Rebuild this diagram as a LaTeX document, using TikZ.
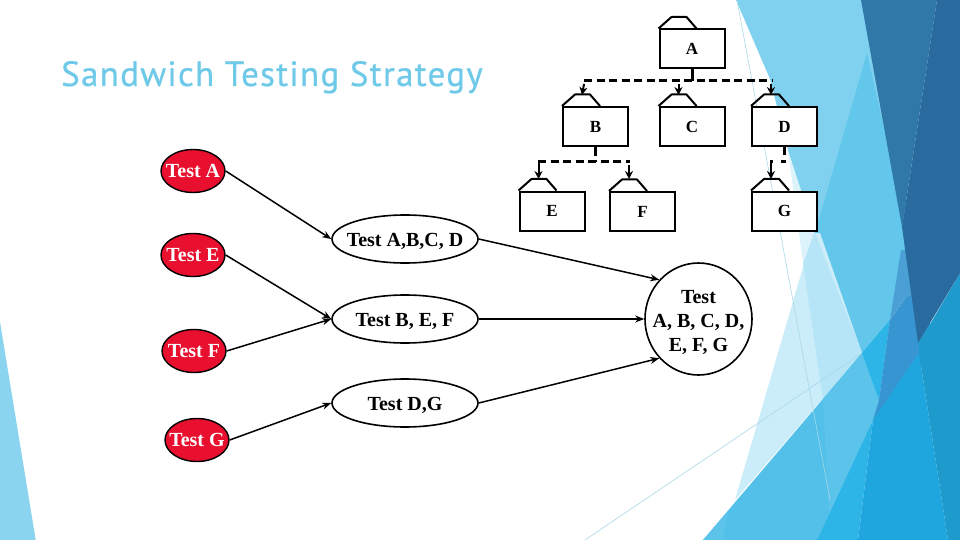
\documentclass[tikz,border=0pt]{standalone}
\usepackage{fontspec}
\setmainfont{Liberation Serif}
\newfontfamily\titlefont[LetterSpace=3.7,FakeBold=0.6]{PT Sans}
\usetikzlibrary{shapes.geometric,arrows.meta}
\definecolor{bL}{HTML}{7FD1EF}
\definecolor{bM}{HTML}{63C6EB}
\definecolor{bP}{HTML}{CBEDF9}
\definecolor{bPb}{HTML}{B5E5F7}
\definecolor{bW}{HTML}{DDF3FB}
\definecolor{bD}{HTML}{2F78A8}
\definecolor{bDD}{HTML}{296B9F}
\definecolor{bO}{HTML}{3795D1}
\definecolor{bOl}{HTML}{4A9FD4}
\definecolor{bA}{HTML}{20A6DE}
\definecolor{bB}{HTML}{1E9ACD}
\definecolor{bC}{HTML}{2CB5E6}
\definecolor{bE}{HTML}{52C0E9}
\definecolor{bF}{HTML}{5CC4EA}
\definecolor{bT}{HTML}{8AD4F0}
\definecolor{bLine}{HTML}{A8D8E8}
\definecolor{titleblue}{HTML}{6FC9E8}
\definecolor{testred}{HTML}{E8102E}
\newcommand{\zw}[2][0pt]{\makebox[0pt][c]{\raisebox{#1}[\height][\depth]{#2}}}
\tikzset{
  box/.style={draw=black,line width=2pt,fill=white,rectangle,minimum width=65pt,minimum height=39pt,inner sep=0pt,font=\fontsize{17}{20}\selectfont\bfseries},
  tab/.style={draw=black,line width=2pt,line join=round},
  redtest/.style={ellipse,draw=black,line width=1.4pt,fill=testred,text=white,minimum width=64pt,minimum height=43pt,inner sep=0pt,font=\fontsize{20}{24}\selectfont\bfseries},
  whitetest/.style={ellipse,draw=black,line width=1.6pt,fill=white,minimum width=146pt,minimum height=48pt,inner sep=0pt,font=\fontsize{20}{24}\selectfont\bfseries},
  alltest/.style={ellipse,draw=black,line width=1.6pt,fill=white,minimum width=107pt,minimum height=112pt,inner sep=0pt,font=\fontsize{20}{24}\selectfont\bfseries},
  flow/.style={draw=black,line width=1.5pt,-{Stealth[length=9pt,width=7pt]}},
  stem/.style={draw=black,line width=3pt},
  bus/.style={draw=black,line width=3pt,dash pattern=on 8pt off 4.5pt},
  drop/.style={draw=black,line width=2pt,-{Stealth[length=8pt,width=8pt]}},
}
\begin{document}
\begin{tikzpicture}[x=1pt,y=-1pt]
\useasboundingbox (0,0) rectangle (960,540);
\fill[white] (0,0) rectangle (960,540);
% background shards
\fill[bT] (0,322) -- (35.7,540) -- (0,540) -- cycle;
\fill[bW] (788,150) -- (815,233) -- (803,263) -- cycle;
\fill[bL] (736,0) -- (870,0) -- (912,233) -- (862,353) -- (815,233) -- (788,150) -- (770,79) -- cycle;
\fill[bM] (867,53) -- (906,227) -- (908,250) -- (890,320) -- (879,400) -- (862,353) -- (815,233) -- cycle;
\fill[bP] (813,233) -- (735,500) -- (862,353) -- (820,233) -- cycle;
\fill[bPb] (803,263) -- (815,233) -- (862,353) -- (823,400) -- cycle;
\fill[bE] (862,353) -- (703,540) -- (817,540) -- (873,420) -- (879,400) -- cycle;
\fill[bF] (728,512) -- (703,540) -- (723,540) -- cycle;
\fill[bF] (862,353) -- (823,400) -- (830,540) -- (817,540) -- (873,420) -- (879,400) -- cycle;
\fill[bC] (873,420) -- (817,540) -- (858,540) -- cycle;
\fill[bC] (890,320) -- (862,353) -- (879,400) -- cycle;
\fill[bO] (907,296) -- (930,296) -- (930,353) -- (873,420) -- (879,400) -- (890,320) -- cycle;
\fill[bOl] (901,250) -- (925,250) -- (925,296) -- (907,296) -- (890,320) -- cycle;
\fill[bA] (919,353) -- (873,420) -- (858,540) -- (948,540) -- cycle;
\fill[bB] (960,273) -- (919,343) -- (919,353) -- (948,540) -- (960,540) -- cycle;
\fill[bD] (861,0) -- (937,0) -- (902,227) -- cycle;
\fill[bDD] (937,0) -- (960,0) -- (960,273) -- (918,343) -- (902,227) -- cycle;
\draw[bLine,line width=0.6pt] (737,0) -- (830,500);
\draw[bLine,line width=0.6pt] (585,540) -- (862,353);
% title
\node[anchor=base west,inner sep=0pt,text=titleblue,font=\titlefont\fontsize{35}{40}\selectfont] (title) at (61,86) {Sandwich Testing Strategy};
% packages
\node[box] (A) at (692,49) {A};
\node[box] (B) at (595.5,126.5) {B};
\node[box] (C) at (692,126.5) {C};
\node[box] (D) at (784.5,126.5) {D};
\node[box] (E) at (552,211) {E};
\node[box] (F) at (642.5,211.5) {F};
\node[box] (G) at (784.5,211) {G};
\foreach \n in {A,B,C,D,E,F,G}{
  \draw[tab] (\n.north west) -- ++(13,-11.5) -- ++(15,0) -- ++(10,11.5);
}
% package dependencies
\coordinate (busL) at (584,81);
\coordinate (busR) at (772,81);
\coordinate (busA) at (692,81);
\coordinate (tabB) at (582,95);
\coordinate (tabC) at (678.5,95);
\coordinate (tabD) at (771,95);
\draw[stem] (A.south) -- (busA);
\draw[bus] (busL) -- (busR);
\draw[drop] (busL |- 0,84) -- (tabB);
\draw[drop] (tabC |- 0,84) -- (tabC);
\draw[drop] (tabD |- 0,84) -- (tabD);
\coordinate (busBL) at (538,162);
\coordinate (busBR) at (630,162);
\coordinate (busB) at (595.5,162);
\coordinate (tabE) at (538.5,179);
\coordinate (tabF) at (629,179);
\draw[stem] (B.south) -- ++(0,9);
\draw[stem] (busB) ++(0,-2) -- (busB);
\draw[bus] (busBL) -- (busBR);
\draw[drop] (busBL) ++(0.5,0) -- (tabE);
\draw[drop] (tabF |- 0,165) -- (tabF);
\coordinate (busD) at (784.5,162);
\coordinate (busG) at (771,162);
\coordinate (tabG) at (771,179);
\draw[stem] (D.south) -- ++(0,8);
\draw[stem] (busD) ++(1,0) -- ++(-5,0);
\draw[stem] (busG) ++(-1,0) -- ++(3,0);
\draw[drop] (busG) ++(0,0) -- (tabG);
% test nodes
\node[redtest] (ta) at (193,171) {\zw{Test A}};
\node[redtest] (te) at (193,255) {\zw{Test E}};
\node[redtest] (tf) at (194,351) {\zw{Test F}};
\node[redtest] (tg) at (197,440) {\zw{Test G}};
\node[whitetest] (tabcd) at (405,239) {\zw[-2pt]{Test A,B,C, D}};
\node[whitetest] (tbef) at (405,319) {\zw[-2pt]{Test B, E, F}};
\node[whitetest] (tdg) at (405,403) {\zw[-2pt]{Test D,G}};
\node[alltest] (tall) at (698.5,319) {\zw[-4pt]{\begin{tabular}{@{}c@{}}Test\\A, B, C, D,\\E, F, G\end{tabular}}};
\draw[flow] (ta.east) -- (tabcd.west);
\draw[flow] (te.east) -- (tbef.west);
\draw[flow] (tf.east) -- (tbef.west);
\draw[flow] (tg.east) -- (tdg.west);
\draw[flow] (tabcd.east) -- (tall.135);
\draw[flow] (tbef.east) -- (tall.west);
\draw[flow] (tdg.east) -- (tall.225);
\end{tikzpicture}
\end{document}
